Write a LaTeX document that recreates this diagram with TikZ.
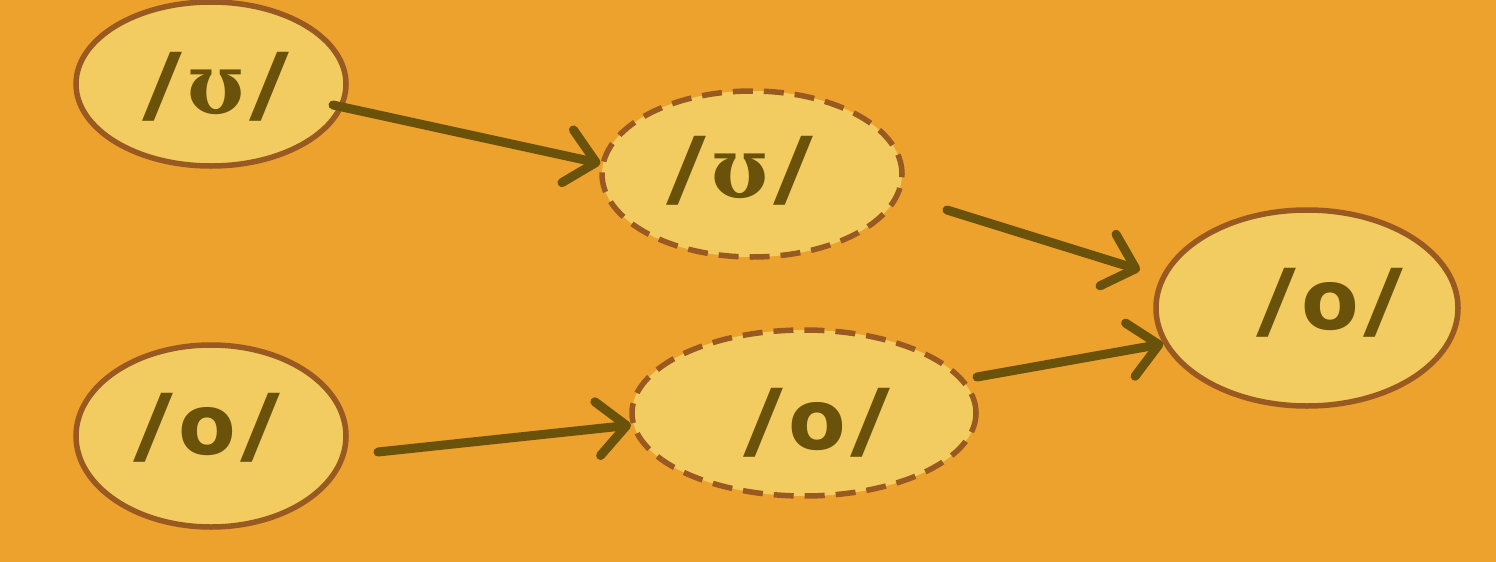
\documentclass[tikz,border=0pt]{standalone}
\usepackage{fontspec}
\usetikzlibrary{shapes.geometric,arrows.meta}
\newfontfamily\lblfont{DejaVu Sans}[BoldFont={DejaVu Sans Bold}]
\newfontfamily\ipafont{DejaVu Serif}[BoldFont={DejaVu Serif Bold}]
\definecolor{bgc}{HTML}{EEA22E}
\definecolor{fillc}{HTML}{F2CC60}
\definecolor{edgec}{HTML}{985A20}
\definecolor{inkc}{HTML}{6A520A}
\newcommand{\myslash}{\scalebox{1.3}[1]{/}}
\newcommand{\gp}{\hspace{5pt}}
\tikzset{
  ell/.style={ellipse, draw=edgec, fill=fillc, line width=5.5pt, inner sep=0pt},
  hypo/.style={ell, dash pattern=on 20pt off 11pt},
  lbl/.style={anchor=base, text=inkc, font=\lblfont\bfseries\fontsize{84}{84}\selectfont, inner sep=0pt},
  arr/.style={draw=inkc, line width=9pt, line cap=round, -{Straight Barb[length=29pt,width=54pt,round]}}
}
\begin{document}
\begin{tikzpicture}[x=1pt,y=-1pt]
\fill[bgc] (0,0) rectangle (1496,562);
\useasboundingbox (0,0) rectangle (1496,562);
% nodes
\node[ell, minimum width=270pt, minimum height=164pt] (A) at (211,84) {};
\node[hypo, minimum width=300pt, minimum height=166pt] (B) at (752,174) {};
\node[ell, minimum width=302pt, minimum height=196pt] (C) at (1307,308) {};
\node[ell, minimum width=270pt, minimum height=182pt] (D) at (211,436) {};
\node[hypo, minimum width=344pt, minimum height=166pt] (E) at (804,413) {};
% labels
\node[lbl] (tA) at (216,113) {\myslash\gp{\ipafont\bfseries ʊ}\gp\myslash};
\node[lbl] (tB) at (740,197) {\myslash\gp{\ipafont\bfseries ʊ}\gp\myslash};
\node[lbl] (tC) at (1330,329) {\myslash\gp o\gp\myslash};
\node[lbl] (tD) at (207,454) {\myslash\gp o\gp\myslash};
\node[lbl] (tE) at (817,449) {\myslash\gp o\gp\myslash};
% connector ends
\coordinate (s1) at (333,105);
\coordinate (s2) at (947,210);
\coordinate (e2) at (1140,270);
\coordinate (s3) at (378,452);
\coordinate (s4) at (977,377);
% connectors
\draw[arr] (s1) -- (B.176);
\draw[arr] (s2) -- (e2);
\draw[arr] (s3) -- (E.184);
\draw[arr] (s4) -- (C.194);
\end{tikzpicture}
\end{document}
